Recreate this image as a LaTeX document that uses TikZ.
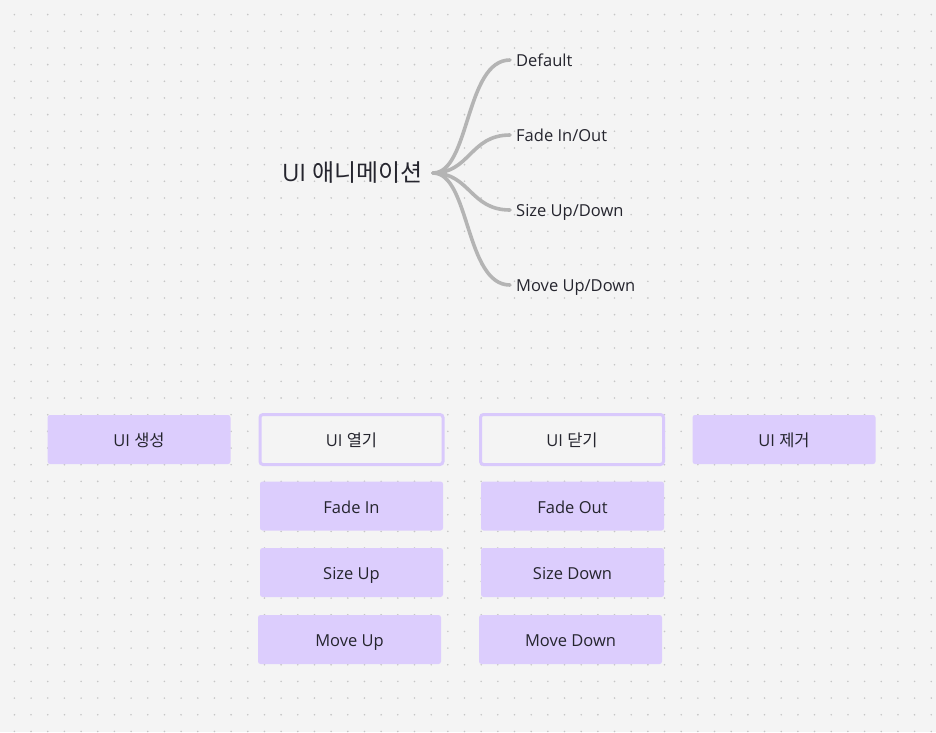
\documentclass[tikz,border=0pt]{standalone}
\usepackage{fontspec}
\setmainfont{Open Sans}
\newfontfamily\kr{Noto Sans CJK KR}
\definecolor{bg}{HTML}{F4F4F4}
\definecolor{dotc}{HTML}{C6C6C6}
\definecolor{lilac}{HTML}{DCCDFD}
\definecolor{lilacline}{HTML}{D9C9FC}
\definecolor{ink}{HTML}{25252E}
\definecolor{branch}{HTML}{B4B4B4}
\tikzset{
  boxtext/.style={text=ink, font=\fontsize{16.5}{19}\selectfont, text height=16pt, text depth=2pt},
  filledbox/.style={boxtext, fill=lilac, rounded corners=2.5pt, minimum width=183pt, minimum height=49pt, inner sep=0pt},
  outlinebox/.style={boxtext, draw=lilacline, line width=3pt, fill=bg, rounded corners=3pt, minimum width=183pt, minimum height=50pt, inner sep=0pt},
  leaf/.style={anchor=west, inner sep=0pt, text=ink, font=\fontsize{16.5}{19}\selectfont, text height=15pt, text depth=3pt},
  br/.style={draw=branch, line width=3.6pt, line cap=round},
}
\begin{document}
\begin{tikzpicture}[x=1pt,y=-1pt]
\fill[bg] (0,0) rectangle (936,732);
\useasboundingbox (0,0) rectangle (936,732);
\foreach \i in {0,...,55} {
  \foreach \j in {0,...,43} {
    \fill[dotc] ({14.4+16.67*\i},{14.6+16.67*\j}) circle (0.9pt);
  }
}
% mind map
\node[inner sep=0pt, anchor=east, text=ink, font=\fontsize{24}{28}\selectfont, text height=20pt, text depth=4pt] (root) at (423,173) {UI {\kr 애니메이션}};
\coordinate (hub) at (433,173);
\node[leaf] (d) at (516,60) {Default};
\node[leaf] (f) at (516,135) {Fade In/Out};
\node[leaf] (s) at (516,210) {Size Up/Down};
\node[leaf] (m) at (516,285) {Move Up/Down};
\coordinate (de) at (510,60);
\coordinate (fe) at (510,135);
\coordinate (se) at (510,210);
\coordinate (me) at (510,285);
\draw[br] (hub) .. controls (470,173) and (465,60) .. (de);
\draw[br] (hub) .. controls (470,173) and (470,135) .. (fe);
\draw[br] (hub) .. controls (470,173) and (470,210) .. (se);
\draw[br] (hub) .. controls (470,173) and (465,285) .. (me);
% boxes
\node[filledbox] (create) at (139,439.5) {UI {\kr 생성}};
\node[outlinebox] (open) at (351.5,439.5) {UI {\kr 열기}};
\node[outlinebox] (close) at (572,439.5) {UI {\kr 닫기}};
\node[filledbox] (remove) at (784,439.5) {UI {\kr 제거}};
\node[filledbox] (fadein) at (351.5,506) {Fade In};
\node[filledbox] (fadeout) at (572.5,506) {Fade Out};
\node[filledbox] (sizeup) at (351.5,572.5) {Size Up};
\node[filledbox] (sizedown) at (572.5,572.5) {Size Down};
\node[filledbox] (moveup) at (349.5,639.5) {Move Up};
\node[filledbox] (movedown) at (570.5,639.5) {Move Down};
\end{tikzpicture}
\end{document}
